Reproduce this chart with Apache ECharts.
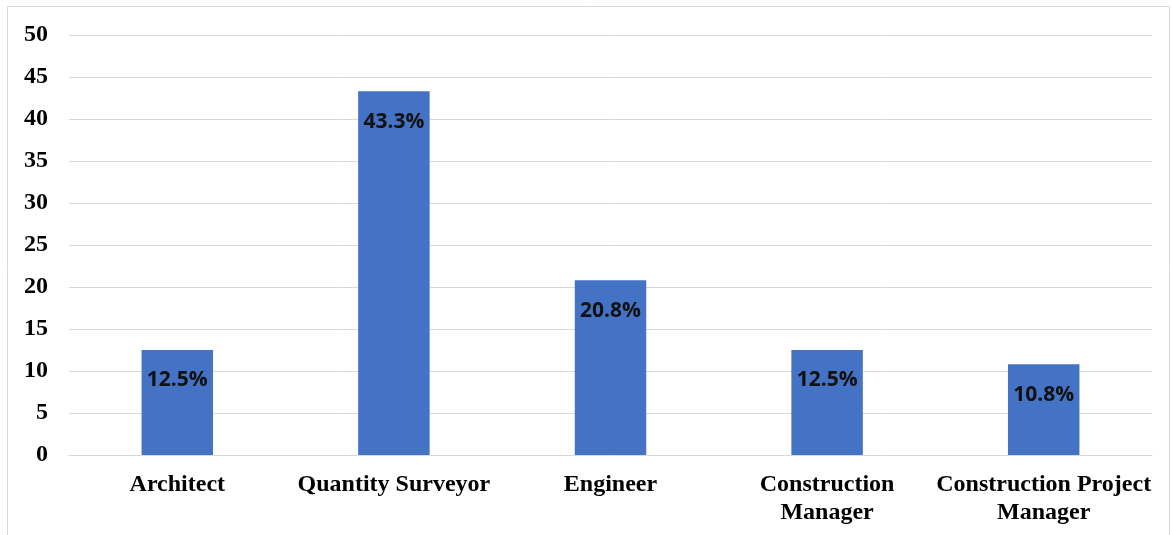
<!DOCTYPE html>
<html>
<head>
<meta charset="utf-8">
<script src="https://cdn.jsdelivr.net/npm/echarts@6/dist/echarts.min.js"></script>
<style>
  html, body { margin: 0; padding: 0; background: #ffffff; }
  #chart { width: 1173px; height: 535px; }
</style>
</head>
<body>
<div id="chart"></div>
<script>
// Respondents by profession (percent of total)
const categories = [
  'Architect',
  'Quantity Surveyor',
  'Engineer',
  'Construction\nManager',
  'Construction Project\nManager'
];
const shares = [12.5, 43.3, 20.8, 12.5, 10.8];
const yTicks = { min: 0, max: 50, interval: 5 };

const chart = echarts.init(document.getElementById('chart'), null, { renderer: 'canvas' });

chart.setOption({
  animation: false,
  backgroundColor: '#ffffff',
  graphic: [{
    type: 'rect',
    shape: { x: 7.5, y: 6.5, width: 1162, height: 560 },
    style: { fill: 'none', stroke: '#d9d9d9', lineWidth: 1 },
    silent: true,
    z: -1
  }],
  grid: { left: 69, right: 21, top: 35, bottom: 80 },
  xAxis: {
    type: 'category',
    data: categories,
    axisTick: { show: false },
    axisLine: { show: true, lineStyle: { color: '#d9d9d9', width: 1 } },
    axisLabel: {
      interval: 0,
      margin: 16,
      color: '#000000',
      fontFamily: '"Liberation Serif", "Times New Roman", serif',
      fontWeight: 'bold',
      fontSize: 24,
      lineHeight: 28
    }
  },
  yAxis: {
    type: 'value',
    min: yTicks.min,
    max: yTicks.max,
    interval: yTicks.interval,
    axisLine: { show: false },
    axisTick: { show: false },
    splitLine: { lineStyle: { color: '#d9d9d9', width: 1 } },
    axisLabel: {
      margin: 21,
      color: '#000000',
      fontFamily: '"Liberation Serif", "Times New Roman", serif',
      fontWeight: 'bold',
      fontSize: 24
    }
  },
  series: [{
    type: 'bar',
    data: shares,
    barWidth: '33%',
    itemStyle: { color: '#4472C4' },
    label: {
      show: true,
      position: 'insideTop',
      distance: 20,
      formatter: p => p.value.toFixed(1) + '%',
      color: '#111111',
      fontFamily: '"Open Sans", "Noto Sans", sans-serif',
      fontWeight: 'bold',
      fontSize: 21
    }
  }]
});
</script>
</body>
</html>
